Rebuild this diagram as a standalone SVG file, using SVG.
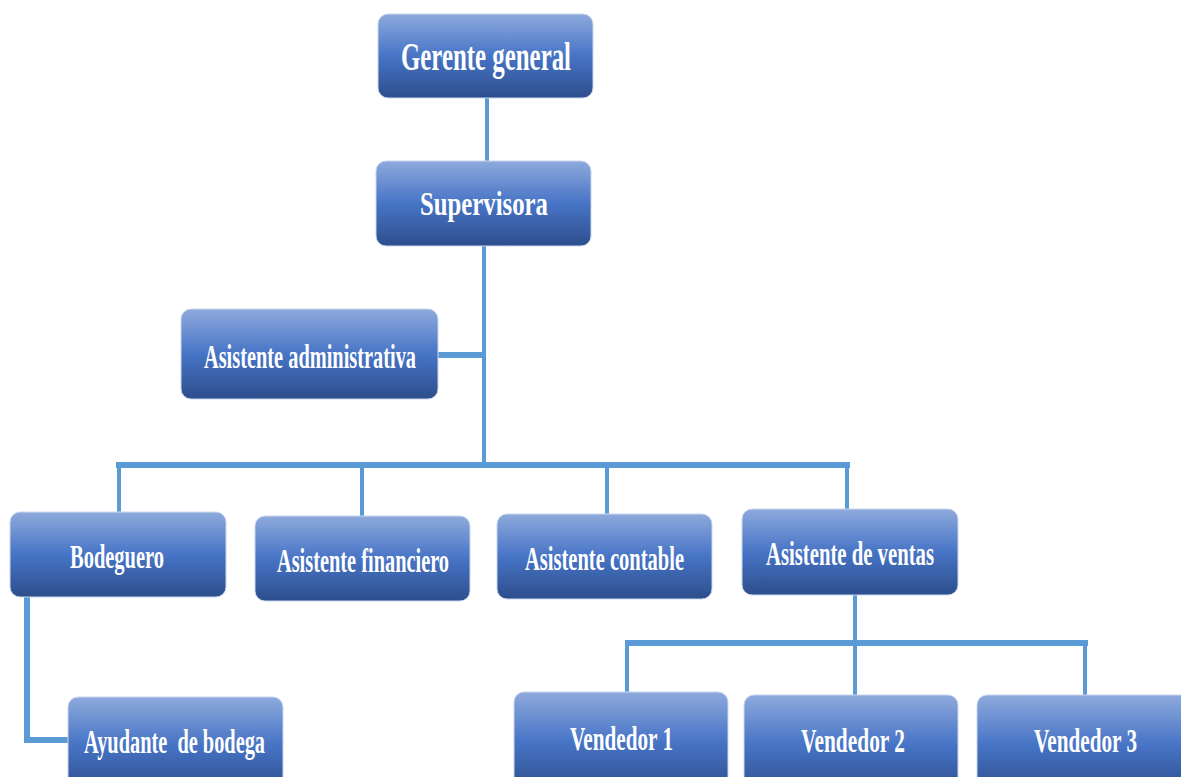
<svg xmlns="http://www.w3.org/2000/svg" width="1181" height="777" viewBox="0 0 1181 777">
<defs>
<linearGradient id="g" x1="0" y1="0" x2="0" y2="1">
<stop offset="0" stop-color="#8eaadc"/>
<stop offset="0.5" stop-color="#4774c6"/>
<stop offset="1" stop-color="#2d4e8c"/>
</linearGradient>
</defs>
<style>
.box{fill:url(#g);stroke:#c9d6ee;stroke-width:1}
.t{font-family:"Liberation Serif","Times New Roman",serif;font-weight:bold;font-size:34px;fill:#ffffff;white-space:pre}
.c{stroke:#5b9bd5;fill:none;stroke-width:4}
.c6{stroke:#5b9bd5;fill:none;stroke-width:6}
</style>
<rect width="1181" height="777" fill="#ffffff"/>
<g id="connectors">
<line class="c" x1="487" y1="98" x2="487" y2="161"/>
<line class="c" x1="484" y1="246" x2="484" y2="465"/>
<line class="c6" x1="438" y1="355" x2="486" y2="355"/>
<line class="c6" x1="116" y1="465" x2="850" y2="465"/>
<line class="c" x1="119" y1="465" x2="119" y2="512"/>
<line class="c" x1="362" y1="465" x2="362" y2="516"/>
<line class="c" x1="607" y1="465" x2="607" y2="514"/>
<line class="c" x1="847" y1="465" x2="847" y2="509"/>
<line class="c" x1="855" y1="595" x2="855" y2="695"/>
<line class="c6" x1="625" y1="643" x2="1088" y2="643"/>
<line class="c" x1="627" y1="643" x2="627" y2="692"/>
<line class="c" x1="1085" y1="643" x2="1085" y2="697"/>
<polyline class="c6" points="27,597 27,740 68,740"/>
</g>
<g id="gerente">
<rect class="box" x="378" y="14" width="215" height="84" rx="10"/>
<text class="t" x="401" y="70" style="font-size:40px" textLength="170" lengthAdjust="spacingAndGlyphs">Gerente general</text>
</g>
<g id="supervisora">
<rect class="box" x="376" y="161" width="215" height="85" rx="10"/>
<text class="t" x="420" y="215" textLength="128" lengthAdjust="spacingAndGlyphs">Supervisora</text>
</g>
<g id="asistente-administrativa">
<rect class="box" x="181" y="309" width="257" height="90" rx="10"/>
<text class="t" x="204" y="368" textLength="212" lengthAdjust="spacingAndGlyphs">Asistente administrativa</text>
</g>
<g id="bodeguero">
<rect class="box" x="10" y="512" width="216" height="85" rx="10"/>
<text class="t" x="70" y="568" textLength="94" lengthAdjust="spacingAndGlyphs">Bodeguero</text>
</g>
<g id="asistente-financiero">
<rect class="box" x="255" y="516" width="215" height="85" rx="10"/>
<text class="t" x="277" y="572" textLength="172" lengthAdjust="spacingAndGlyphs">Asistente financiero</text>
</g>
<g id="asistente-contable">
<rect class="box" x="497" y="514" width="215" height="85" rx="10"/>
<text class="t" x="525" y="570" textLength="159" lengthAdjust="spacingAndGlyphs">Asistente contable</text>
</g>
<g id="asistente-ventas">
<rect class="box" x="742" y="509" width="216" height="86" rx="10"/>
<text class="t" x="766" y="565" textLength="168" lengthAdjust="spacingAndGlyphs">Asistente de ventas</text>
</g>
<g id="ayudante-bodega">
<rect class="box" x="68" y="697" width="215" height="95" rx="10"/>
<text class="t" x="84" y="753" textLength="181" lengthAdjust="spacingAndGlyphs">Ayudante  de bodega</text>
</g>
<g id="vendedor1">
<rect class="box" x="514" y="692" width="214" height="100" rx="10"/>
<text class="t" x="570" y="750" textLength="103" lengthAdjust="spacingAndGlyphs">Vendedor 1</text>
</g>
<g id="vendedor2">
<rect class="box" x="744" y="695" width="214" height="100" rx="10"/>
<text class="t" x="801" y="752" textLength="104" lengthAdjust="spacingAndGlyphs">Vendedor 2</text>
</g>
<g id="vendedor3">
<rect class="box" x="977" y="695" width="214" height="100" rx="10"/>
<text class="t" x="1034" y="752" textLength="103" lengthAdjust="spacingAndGlyphs">Vendedor 3</text>
</g>
</svg>
